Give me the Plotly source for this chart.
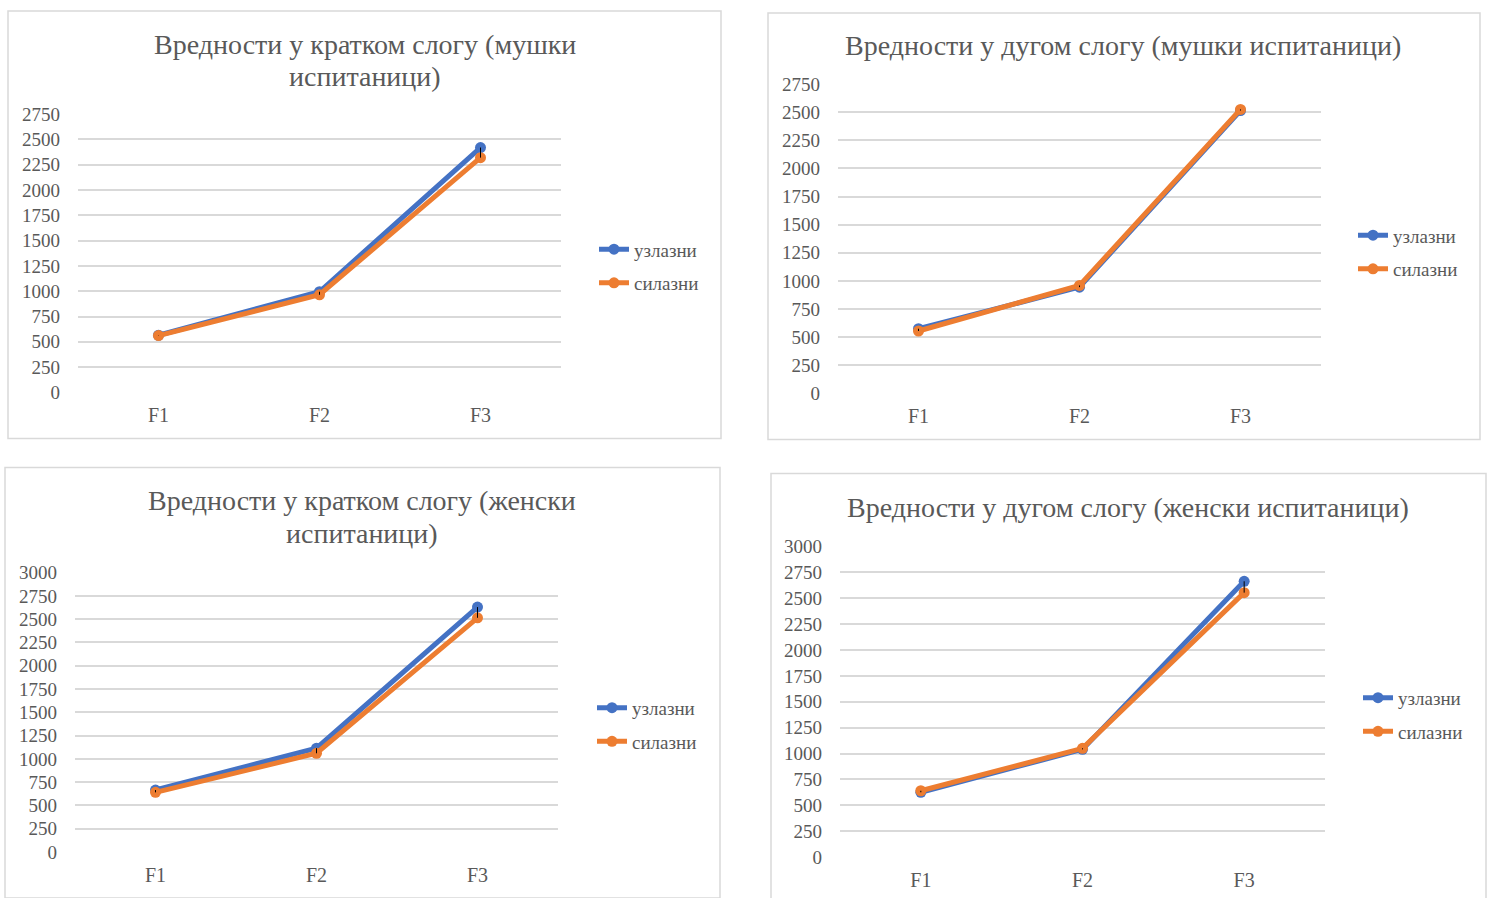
import plotly.graph_objects as go

# Formant categories
categories = ["F1", "F2", "F3"]
series_names = ["узлазни", "силазни"]

# Short syllable, male speakers
short_male_rising = [565, 995, 2420]
short_male_falling = [562, 965, 2320]
# Long syllable, male speakers
long_male_rising = [575, 945, 2515]
long_male_falling = [555, 960, 2525]
# Short syllable, female speakers
short_female_rising = [665, 1115, 2630]
short_female_falling = [640, 1060, 2515]
# Long syllable, female speakers
long_female_rising = [625, 1040, 2665]
long_female_falling = [640, 1050, 2555]

titles = [
    ["Вредности у кратком слогу (мушки", "испитаници)"],
    ["Вредности у дугом слогу (мушки испитаници)"],
    ["Вредности у кратком слогу (женски", "испитаници)"],
    ["Вредности у дугом слогу (женски испитаници)"],
]
y_max = [2750, 2750, 3000, 3000]

W, H = 1488, 898
BLUE = "#4472C4"
ORANGE = "#ED7D31"
GREY = "#595959"
GRID = "#D9D9D9"
FONT = "Liberation Serif"

# vertical placement: page pixel row -> paper fraction
TOP_PX, SPAN_PX = 10, 876


def px_x(v):
    return v / W


def px_y(v):
    return 1 - (v - TOP_PX) / SPAN_PX


# pixel layout of each chart: plot area, frame, title lines, legend anchor
panels = [
    dict(plot=(78, 561, 114, 392), frame=(8, 11, 721, 438), title=(365, [44, 76]), legend=(594, 266)),
    dict(plot=(838, 1321, 84, 393), frame=(768, 13, 1480, 439), title=(1123, [45]), legend=(1353, 252)),
    dict(plot=(75, 558, 572, 851), frame=(5, 467, 720, 897), title=(362, [500, 533]), legend=(592, 724)),
    dict(plot=(840, 1325, 546, 856), frame=(771, 473, 1486, 898), title=(1128, [507]), legend=(1358, 714)),
]

data_pairs = [
    (short_male_rising, short_male_falling),
    (long_male_rising, long_male_falling),
    (short_female_rising, short_female_falling),
    (long_female_rising, long_female_falling),
]

fig = go.Figure()
layout = dict(
    width=W, height=H,
    margin=dict(l=0, r=0, t=0, b=0, pad=0),
    paper_bgcolor="white", plot_bgcolor="white",
    font=dict(family=FONT, color=GREY),
    shapes=[], annotations=[],
)

xpos = list(range(len(categories)))

for i, (p, (rising, falling)) in enumerate(zip(panels, data_pairs)):
    n = "" if i == 0 else str(i + 1)
    xa, ya = "x" + n, "y" + n
    leg = "legend" + n
    x0, x1, y0, y1 = p["plot"]

    for name, vals, col in [(series_names[0], rising, BLUE), (series_names[1], falling, ORANGE)]:
        fig.add_trace(go.Scatter(
            x=xpos, y=vals, name=name, mode="lines+markers",
            line=dict(color=col, width=5), marker=dict(color=col, size=11),
            xaxis=xa, yaxis=ya, legend=leg, legendgroup=f"{leg}-{name}",
        ))
    # high-low lines between the two series
    hx, hy = [], []
    for k in xpos:
        hx += [k, k, None]
        hy += [rising[k], falling[k], None]
    fig.add_trace(go.Scatter(
        x=hx, y=hy, mode="lines", line=dict(color="#000000", width=1),
        xaxis=xa, yaxis=ya, showlegend=False, hoverinfo="skip",
    ))

    layout["xaxis" + n] = dict(
        domain=[px_x(x0), px_x(x1)], anchor=ya, range=[-0.5, 2.5],
        tickvals=xpos, ticktext=categories, showgrid=False, zeroline=False,
        showline=False, ticks="", tickfont=dict(size=20, color=GREY, family=FONT),
        ticklabelstandoff=9, fixedrange=True,
    )
    layout["yaxis" + n] = dict(
        domain=[px_y(y1), px_y(y0)], anchor=xa, range=[0, y_max[i]],
        dtick=250, tick0=0, showgrid=True, gridcolor=GRID, gridwidth=1.5,
        zeroline=False, showline=False, ticks="",
        tickfont=dict(size=19, color=GREY, family=FONT),
        ticklabelstandoff=17, fixedrange=True,
    )
    lx, ly = p["legend"]
    layout[leg] = dict(
        x=px_x(lx), y=px_y(ly), xanchor="left", yanchor="middle",
        xref="paper", yref="paper", bgcolor="rgba(0,0,0,0)",
        font=dict(size=19, color=GREY, family=FONT),
        tracegroupgap=6, itemwidth=30,
    )
    fx0, fy0, fx1, fy1 = p["frame"]
    layout["shapes"].append(dict(
        type="rect", xref="paper", yref="paper",
        x0=px_x(fx0), x1=px_x(fx1), y0=px_y(fy1), y1=px_y(fy0),
        line=dict(color=GRID, width=1.5), fillcolor="rgba(0,0,0,0)", layer="below",
    ))
    tx, tys = p["title"]
    for line_text, ty in zip(titles[i], tys):
        layout["annotations"].append(dict(
            text=line_text, x=px_x(tx), y=px_y(ty), xref="paper", yref="paper",
            xanchor="center", yanchor="middle", showarrow=False,
            font=dict(size=28, color=GREY, family=FONT),
        ))

fig.update_layout(**layout)
fig.write_html("out.html")
